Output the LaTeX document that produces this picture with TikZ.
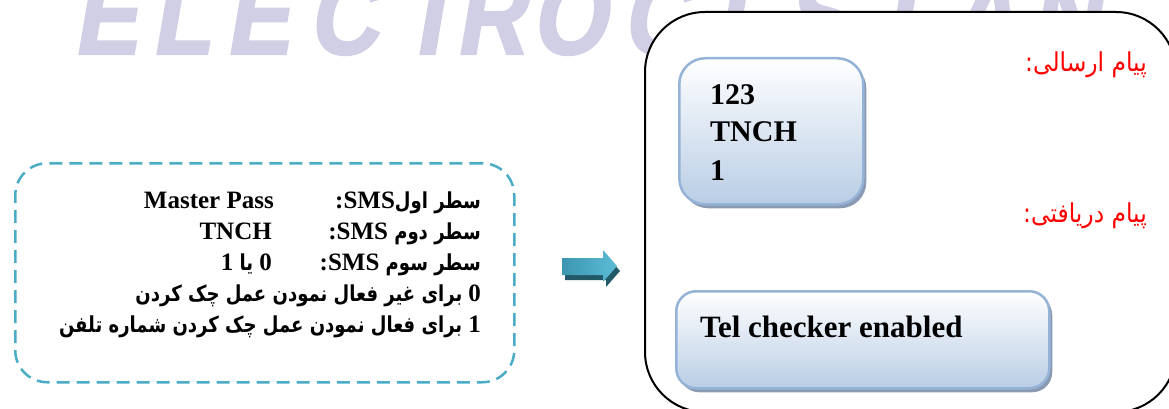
\documentclass[tikz,border=0pt]{standalone}
\usepackage{fontspec}
\setmainfont{Liberation Serif}
\newfontfamily\arfont[Script=Arabic,FakeStretch=0.82]{DejaVu Sans}
\newfontfamily\arfontR[Script=Arabic,FakeStretch=0.9]{DejaVu Sans}
\newfontfamily\wmfont[FakeStretch=0.86,FakeSlant=0.17,FakeBold=2]{Liberation Sans}
\TeXXeTstate=1
\usetikzlibrary{shadows}
\definecolor{dashblue}{RGB}{75,172,198}
\definecolor{boxborder}{RGB}{149,179,215}
\definecolor{boxbot}{RGB}{185,205,229}
\definecolor{boxshadow}{RGB}{138,154,178}
\definecolor{wmcol}{RGB}{209,207,229}
\definecolor{arrowfront}{RGB}{60,150,176}
\definecolor{arrowlight}{RGB}{92,188,214}
\definecolor{arrowdark}{RGB}{33,89,104}
\definecolor{labelred}{RGB}{255,0,0}
\newcommand\ArB{\arfont\bfseries\fontsize{22}{26}\selectfont}
\begin{document}
\begin{tikzpicture}[x=1pt,y=-1pt,
  wm/.style={font={\wmfont\bfseries\fontsize{112}{112}\selectfont}, text=wmcol, inner sep=0,
     text depth=0pt, anchor=base west},
  lat/.style={font={\bfseries\fontsize{25}{30}\selectfont}, inner sep=0, anchor=base east},
  boxtext/.style={font={\bfseries\fontsize{30}{36}\selectfont}, inner sep=0, anchor=base west},
  redlabel/.style={font={\arfontR\fontsize{26}{30}\selectfont}, text=labelred, inner sep=0, anchor=base east},
  bluebox/.style={draw=boxborder, line width=2.5pt, top color=white, bottom color=boxbot,
     anchor=north west, inner sep=0,
     general shadow={shadow xshift=3pt, shadow yshift=-4pt, fill=boxshadow}},
]
\useasboundingbox (0,0) rectangle (1169,409);
\clip (0,0) rectangle (1169,409);
% watermark
\foreach \ch/\xx [count=\i] in {E/73,L/151,E/225,C/308,T/398,R/455,O/531,C/622,I/715,S/785,T/868,A/948,N/1030}
  \node[wm] (wm\i) at (\xx,54) {\ch};
% dashed condition box
\node[draw=dashblue, line width=2.5pt, dash pattern=on 13pt off 7pt, rounded corners=32pt,
      minimum width=499pt, minimum height=219pt, anchor=north west, inner sep=0] (cond) at (14,162) {};
% left texts
\node[lat] (l1) at (481,208) {\beginR{\ArB سطر اول}SMS\kern0pt:\endR};
\node[lat] (v1) at (274,208) {Master Pass};
\node[lat] (l2) at (481,239.5) {\beginR{\ArB سطر دوم} SMS\kern0pt:\endR};
\node[lat] (v2) at (272,239.5) {TNCH};
\node[lat] (l3) at (481,270) {\beginR{\ArB سطر سوم} SMS\kern0pt:\endR};
\node[lat] (v3) at (272,270) {\beginR 0 {\ArB یا} 1\endR};
\node[lat] (l4) at (481,301) {\beginR 0\hspace{6pt}{\ArB برای غیر فعال نمودن عمل چک کردن}\endR};
\node[lat] (l5) at (481,332) {\beginR 1\hspace{6pt}{\ArB برای فعال نمودن عمل چک کردن شماره تلفن}\endR};
% 3D arrow
\fill[arrowdark] (565,263) -- (606,263) -- (606,255) -- (620,271) -- (606,287) -- (606,280) -- (565,280) -- cycle;
\shade[left color=arrowfront, right color=arrowlight] (562,258) -- (603,258) -- (603,250) -- (617,266) -- (603,282) -- (603,275) -- (562,275) -- cycle;
% right panel
\node[draw=black, line width=2pt, fill=white, rounded corners=60pt, minimum width=531pt,
      minimum height=400pt, anchor=north west, inner sep=0] (panel) at (644,11) {};
\node[bluebox, rounded corners=26pt, minimum width=184pt, minimum height=146pt] (b1) at (678,57) {};
\node[boxtext] (t1) at (710,105) {123};
\node[boxtext] (t2) at (710,142) {TNCH};
\node[boxtext] (t3) at (710,180) {1};
\node[bluebox, rounded corners=20pt, minimum width=373pt, minimum height=97pt] (b2) at (675,290) {};
\node[boxtext, font={\bfseries\fontsize{31}{36}\selectfont}] (t4) at (700,337) {Tel checker enabled};
\node[redlabel] (r1) at (1147,72) {\beginR پیام ارسالی:\endR};
\node[redlabel] (r2) at (1147,222) {\beginR پیام دریافتی:\endR};
\end{tikzpicture}
\end{document}
